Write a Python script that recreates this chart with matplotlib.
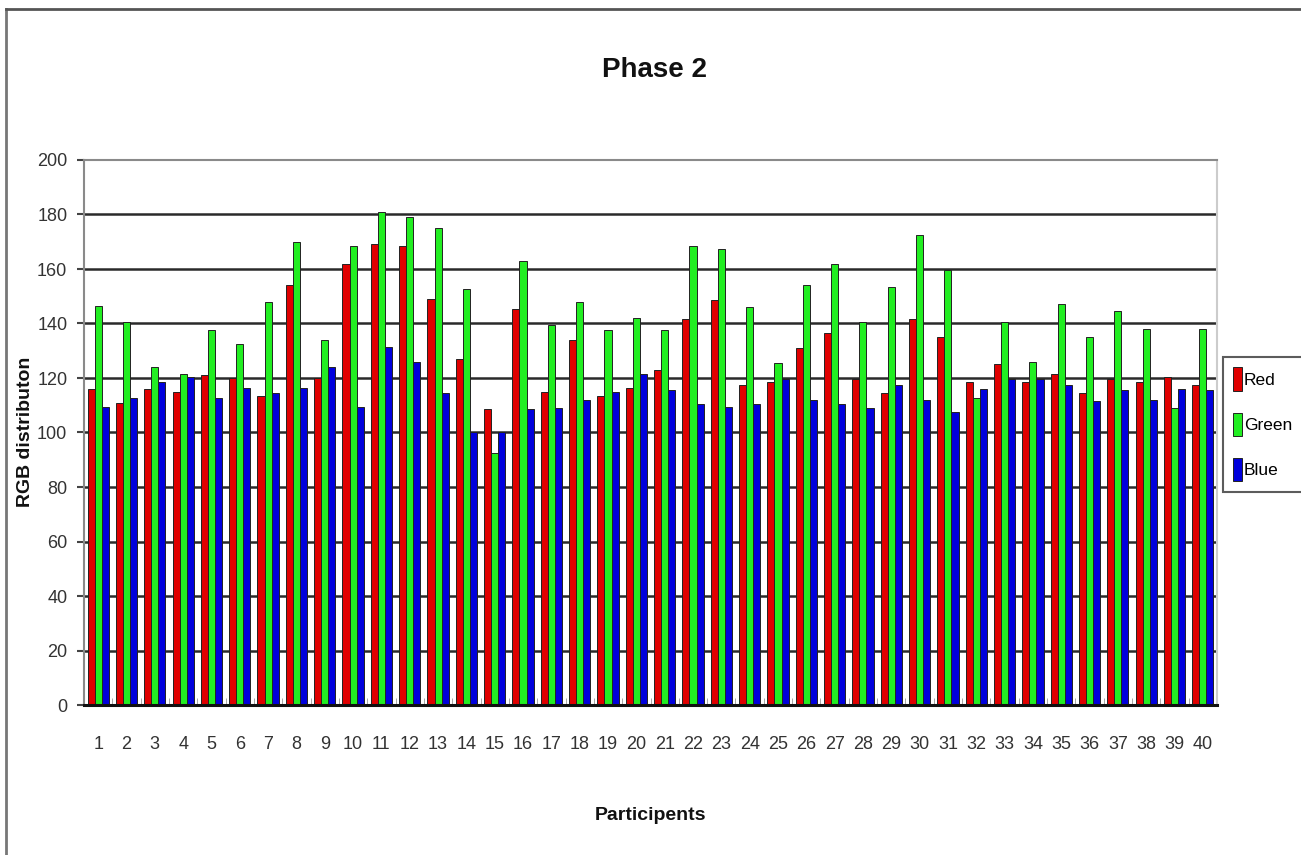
import matplotlib
matplotlib.use("Agg")
import matplotlib.pyplot as plt
import numpy as np
from matplotlib.lines import Line2D

participants = [str(i) for i in range(1, 41)]
red = [116, 111, 116, 115, 121, 120, 113.5, 154, 120, 162, 169, 168.5, 149, 127, 108.5, 145.5, 115, 134, 113.5, 116.5,
       123, 141.5, 148.5, 117.5, 118.5, 131, 136.5, 119.5, 114.5, 141.5, 135, 118.5, 125, 118.5, 121.5, 114.5, 119.5, 118.5, 120.5, 117.5]
green = [146.5, 140.5, 124, 121.5, 137.5, 132.5, 148, 170, 134, 168.5, 181, 179, 175, 152.5, 92.5, 163, 139.5, 148, 137.5, 142,
         137.5, 168.5, 167.5, 146, 125.5, 154, 162, 140.5, 153.5, 172.5, 159.5, 112.5, 140.5, 126, 147, 135, 144.5, 138, 109, 138]
blue = [109.5, 112.5, 118.5, 120.5, 112.5, 116.5, 114.5, 116.5, 124, 109.5, 131.5, 126, 114.5, 100, 100, 108.5, 109, 112, 115, 121.5,
        115.5, 110.5, 109.5, 110.5, 119.5, 112, 110.5, 109, 117.5, 112, 107.5, 116, 119.5, 119.5, 117.5, 111.5, 115.5, 112, 116, 115.5]
series_names = ["Red", "Green", "Blue"]
colors = ["#e00000", "#22ee22", "#0000dc"]
yticks = list(range(0, 201, 20))

plt.rcParams["font.family"] = ["Liberation Sans", "DejaVu Sans"]

fig = plt.figure(figsize=(13.01, 8.55), dpi=100)
ax = fig.add_axes([84/1301, 1-705/855, (1217-84)/1301, (705-160)/855])

x = np.arange(len(participants))
w = 0.25
handles = []
for k, (vals, c, name) in enumerate(zip([red, green, blue], colors, series_names)):
    b = ax.bar(x + (k-1)*w, vals, width=w, color=c, edgecolor="#222222", linewidth=0.7, label=name, zorder=3)
    handles.append(b)

ax.set_xlim(-0.5, len(participants)-0.5)
ax.set_ylim(0, 200)
ax.set_yticks(yticks)
ax.set_yticklabels([str(v) for v in yticks], fontsize=13, color="#333333")
ax.set_xticks(x)
ax.set_xticklabels(participants, fontsize=13, color="#333333")
ax.tick_params(axis="x", length=0, pad=22)
ax.set_xticks(np.arange(-0.5, len(participants), 1), minor=True)
ax.tick_params(axis="x", which="minor", direction="in", length=5, color="#999999")
ax.tick_params(axis="y", length=5, width=1.5, color="#444444", pad=7)

for v in yticks[1:-1]:
    ax.axhline(v, color="#2a2a2a", linewidth=1.8, zorder=1)

for s in ["top", "left", "right"]:
    ax.spines[s].set_color("#8a8a8a")
    ax.spines[s].set_linewidth(1.5)
ax.spines["right"].set_color("#cccccc")
ax.spines["bottom"].set_color("#111111")
ax.spines["bottom"].set_linewidth(2.2)
ax.spines["bottom"].set_zorder(5)

leg = ax.legend(handles=handles, labels=series_names, loc="upper left",
                bbox_to_anchor=(1223/1301, 1-357/855), bbox_transform=fig.transFigure,
                frameon=True, fancybox=False, fontsize=12.5, handlelength=0.5, handleheight=1.7,
                handletextpad=0.1, labelspacing=1.25, borderpad=0.6, borderaxespad=0)
leg.get_frame().set_edgecolor("#333333")
leg.get_frame().set_linewidth(1.5)

fig.text(655/1301, 1-70/855, "Phase 2", ha="center", va="center", fontsize=20, fontweight="bold", color="#111111")
fig.text(650/1301, 1-815/855, "Participents", ha="center", va="center", fontsize=14, fontweight="bold", color="#111111")
fig.text(26/1301, 1-432/855, "RGB distributon", ha="center", va="center", rotation=90,
         fontsize=14, fontweight="bold", color="#111111")

# outer frame (top and left edges)
fig.add_artist(Line2D([6/1301, 6/1301], [0, 1-9/855], transform=fig.transFigure, color="#777777", linewidth=2))
fig.add_artist(Line2D([6/1301, 1], [1-9/855, 1-9/855], transform=fig.transFigure, color="#555555", linewidth=2))

fig.savefig("out.png", dpi=100)
